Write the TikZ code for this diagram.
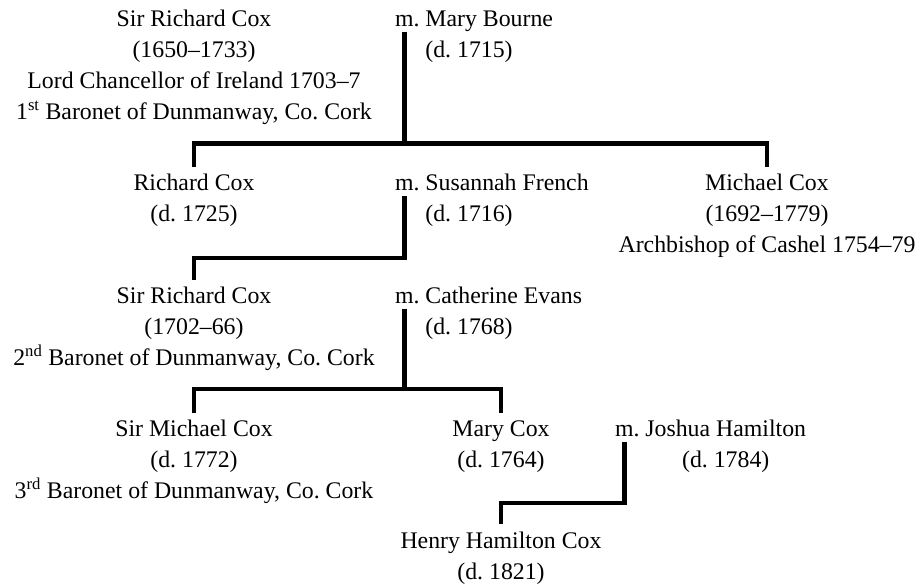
\documentclass[tikz,border=0pt]{standalone}
\usepackage{fontspec}
\setmainfont{Liberation Serif}
\usetikzlibrary{calc}
\newcommand{\famblock}[1]{\begin{tabular}[t]{@{}c@{}}#1\end{tabular}}
\newcommand{\wedblock}[1]{\begin{tabular}[t]{@{}l@{}}#1\end{tabular}}
\tikzset{
  person/.style={anchor=base, inner sep=0pt, outer sep=2pt,
                 font=\fontsize{23.8}{31}\selectfont\frenchspacing},
  spouse/.style={person, anchor=base west, outer sep=0pt},
  kin/.style   ={line width=4.4pt, black},
}
\begin{document}
\begin{tikzpicture}[x=1pt, y=-1pt]
  \useasboundingbox (0,0) rectangle (921,588);

  % --- first generation ----------------------------------------------------
  \node[person] (richard1) at (194,27)
    {\famblock{Sir Richard Cox\\(1650--1733)\\Lord Chancellor of Ireland 1703--7\\
     1\textsuperscript{st} Baronet of Dunmanway, Co. Cork}};
  \node[spouse] (bourne) at (395,27) {m. \wedblock{Mary Bourne\\(d. 1715)}};

  % --- second generation ---------------------------------------------------
  \node[person] (richard2) at (194,191) {\famblock{Richard Cox\\(d. 1725)}};
  \node[spouse] (french) at (395,191) {m. \wedblock{Susannah French\\(d. 1716)}};
  \node[person] (michael1) at (767,191)
    {\famblock{Michael Cox\\(1692--1779)\\Archbishop of Cashel 1754--79}};

  % --- third generation ----------------------------------------------------
  \node[person] (richard3) at (194,303.5)
    {\famblock{Sir Richard Cox\\(1702--66)\\2\textsuperscript{nd} Baronet of Dunmanway, Co. Cork}};
  \node[spouse] (evans) at (395,303.5) {m. \wedblock{Catherine Evans\\(d. 1768)}};

  % --- fourth generation ---------------------------------------------------
  \node[person] (michael2) at (194,436.5)
    {\famblock{Sir Michael Cox\\(d. 1772)\\3\textsuperscript{rd} Baronet of Dunmanway, Co. Cork}};
  \node[person] (mary) at (501,436.5) {\famblock{Mary Cox\\(d. 1764)}};
  \node[spouse] (hamilton) at (615,436.5) {m. \famblock{Joshua Hamilton\\(d. 1784)}};

  % --- fifth generation ----------------------------------------------------
  \node[person] (henry) at (501,548) {\famblock{Henry Hamilton Cox\\(d. 1821)}};

  % --- marriage marks and family bars ---------------------------------------
  \foreach \w in {bourne,french,evans,hamilton}
    \coordinate (\w M) at ([xshift=9.5pt,yshift=-5pt]\w.base west);
  \coordinate (bar1) at (0,143.5);
  \coordinate (bar2) at (0,258);
  \coordinate (bar3) at (0,389);
  \coordinate (bar4) at (0,503);

  \draw[kin] (bourneM) -- (bourneM |- bar1);
  \draw[kin] (richard2.north) |- (michael1.north |- bar1) -- (michael1.north);
  \draw[kin] (frenchM) |- (richard3.north |- bar2) -- (richard3.north);
  \draw[kin] (evansM) -- (evansM |- bar3);
  \draw[kin] (michael2.north) |- (mary.north |- bar3) -- (mary.north);
  \draw[kin] (hamiltonM) |- (henry.north |- bar4) -- (henry.north);
\end{tikzpicture}
\end{document}
